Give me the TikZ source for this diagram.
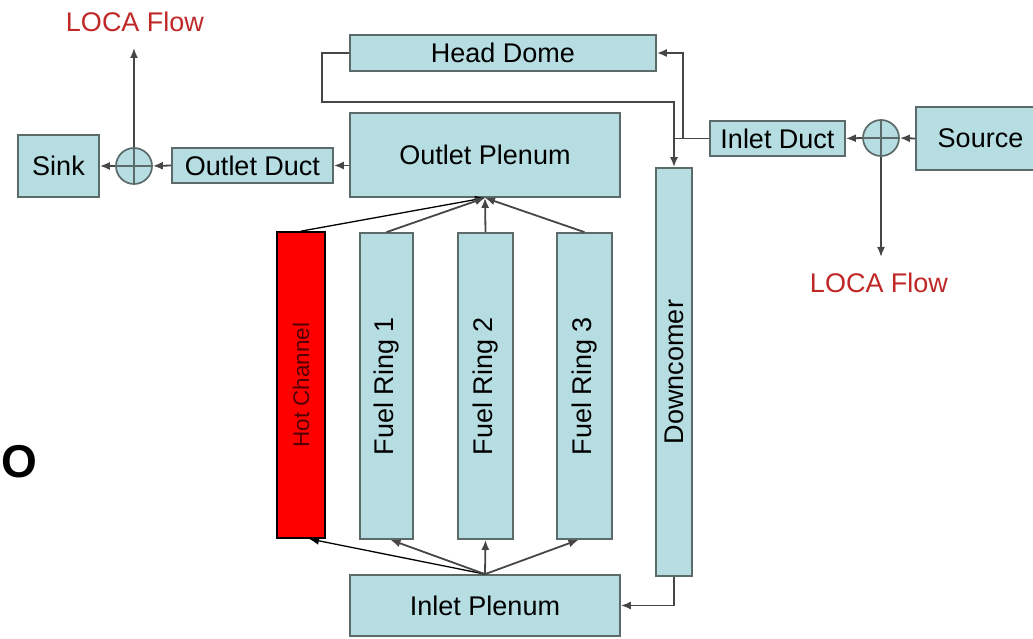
\documentclass[tikz,border=0pt]{standalone}
\usepackage{fontspec}
\setmainfont{Liberation Sans}
\usepackage{xcolor}
\usepackage{tikz}
\usetikzlibrary{shapes.geometric, arrows.meta, calc}
\definecolor{boxblue}{RGB}{182,221,226}
\definecolor{boxline}{RGB}{92,106,106}
\definecolor{flowline}{RGB}{70,70,70}
\definecolor{locared}{RGB}{192,40,40}
\definecolor{hotred}{RGB}{255,0,0}
\definecolor{hottext}{RGB}{80,0,0}
\tikzstyle{box} = [draw=boxline, fill=boxblue, line width=1.7pt, inner sep=0pt, font=\fontsize{27}{31}\selectfont]
\tikzstyle{junct} = [circle, draw=boxline, fill=boxblue, line width=1.7pt, minimum size=36pt, inner sep=0pt]
\tikzstyle{arrow} = [-{Latex[length=10pt,width=8pt]}, line width=1.8pt, draw=flowline]

\begin{document}
\begin{tikzpicture}[x=1pt, y=1pt]
    \useasboundingbox (0,0) rectangle (1033,638);
    % boxes across the top
    \node[box, minimum width=81pt, minimum height=62pt]  (sink)   at (58.5,472)  {Sink};
    \node[junct]                                          (lcirc)  at (134,472)   {};
    \node[box, minimum width=161pt, minimum height=35pt] (oduct)  at (252.5,472.5) {Outlet Duct};
    \node[box, minimum width=270pt, minimum height=84pt] (oplen)  at (485,483)   {Outlet Plenum};
    \node[box, minimum width=306pt, minimum height=36pt] (hdome)  at (503,585)   {Head Dome};
    \node[box, minimum width=135pt, minimum height=35pt] (iduct)  at (777.5,499.5) {Inlet Duct};
    \node[junct]                                          (rcirc)  at (881,500)   {};
    \node[box, minimum width=129pt, minimum height=63pt] (source) at (980.5,499.5) {Source};
    % core channels
    \node[box, fill=hotred, draw=black, rotate=90, minimum width=306pt, minimum height=48pt,
          text=hottext, font=\fontsize{22.5}{26}\selectfont] (hot) at (301,253) {Hot Channel};
    \node[box, rotate=90, minimum width=306pt, minimum height=53pt] (ring1) at (386.5,252) {Fuel Ring 1};
    \node[box, rotate=90, minimum width=306pt, minimum height=55pt] (ring2) at (485.5,252) {Fuel Ring 2};
    \node[box, rotate=90, minimum width=306pt, minimum height=55pt] (ring3) at (584.5,252) {Fuel Ring 3};
    \node[box, rotate=90, minimum width=408pt, minimum height=36pt] (dcomer) at (674,266) {Downcomer};
    \node[box, minimum width=270pt, minimum height=61pt] (iplen)  at (485,32.5)  {Inlet Plenum};
    % labels
    \node[text=locared, font=\fontsize{27}{31}\selectfont] (lflowT) at (135,616) {LOCA Flow};
    \node[text=locared, font=\fontsize{27}{31}\selectfont] (lflowB) at (879,355) {LOCA Flow};
    \node[font=\fontsize{46}{50}\selectfont\bfseries] (mark) at (19,176) {O};
    \coordinate (ltip) at (134,590);
    \coordinate (rtip) at (881,381);
    \coordinate (split) at (683,499.5);
    % cross in the junctions
    \draw[line width=1.7pt, draw=boxline] (lcirc.north) -- (lcirc.south) (lcirc.west) -- (lcirc.east);
    \draw[line width=1.7pt, draw=boxline] (rcirc.north) -- (rcirc.south) (rcirc.west) -- (rcirc.east);
    % outlet side
    \draw[arrow] (oduct.east -| oplen.west) -- (oduct.east);
    \draw[arrow] (oduct.west) -- (lcirc.east);
    \draw[arrow] (lcirc.west) -- (sink.east);
    \draw[arrow] (lcirc.north) -- (ltip);
    % inlet side
    \draw[arrow] (source.west) -- (rcirc.east);
    \draw[arrow] (rcirc.west) -- (iduct.east);
    \draw[arrow] (rcirc.south) -- (rtip);
    \draw[arrow] (iduct.west) -| (dcomer.east);
    \draw[arrow] (split) |- (hdome.east);
    \draw[line width=1.8pt, draw=flowline] (hdome.west) -- ++(-27,0) |- (dcomer.east |- {(0,536)}) -- (split -| dcomer.east);
    \draw[arrow] (dcomer.west) |- (iplen.east);
    % through the core
    \draw[arrow, draw=black, line width=1.3pt] (iplen.north) -- ($(hot.west)+(8,0)$);
    \draw[arrow] (iplen.north) -- ($(ring1.west)+(4,0)$);
    \draw[arrow] (iplen.north) -- (ring2.west);
    \draw[arrow] (iplen.north) -- ($(ring3.west)+(-6,0)$);
    \draw[arrow, draw=black, line width=1.3pt] (hot.east) -- (oplen.south);
    \draw[arrow] (ring1.east) -- (oplen.south);
    \draw[arrow] (ring2.east) -- (oplen.south);
    \draw[arrow] (ring3.east) -- (oplen.south);
\end{tikzpicture}
\end{document}
